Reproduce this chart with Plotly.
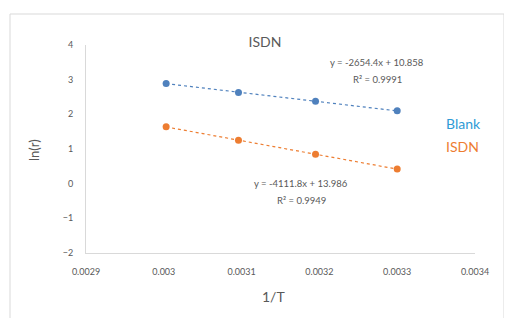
import numpy as np
import plotly.graph_objects as go

inv_T = [0.003003, 0.003096, 0.003195, 0.0033]
blank_ln_r = [2.89, 2.63, 2.38, 2.10]
isdn_ln_r = [1.64, 1.25, 0.85, 0.42]
x_ticks = [0.0029, 0.003, 0.0031, 0.0032, 0.0033, 0.0034]
x_tick_labels = ["0.0029", "0.003", "0.0031", "0.0032", "0.0033", "0.0034"]
y_ticks = [-2, -1, 0, 1, 2, 3, 4]
blank_eq = ["y = -2654.4x + 10.858", "R² = 0.9991"]
isdn_eq = ["y = -4111.8x + 13.986", "R² = 0.9949"]

BLUE = "#4f81bd"
ORANGE = "#ed7d31"
LEG_BLUE = "#2e9bd6"
GRAY = "#595959"
FONT = "Lato"

# page body has an 8px margin, so the figure starts at (8, 8)
W, H = 504, 310
PL, PT, PW, PH = 86, 45, 389, 208  # plot area in page pixels


def px(x):
    return (x - PL) / PW


def py(y):
    return (PT + PH - y) / PH


def note(x, y, text, size, color, xanchor="center", angle=0):
    fig.add_annotation(xref="paper", yref="paper", x=px(x), y=py(y), text=text,
                       showarrow=False, xanchor=xanchor, yanchor="middle",
                       textangle=angle, font=dict(size=size, color=color))


fig = go.Figure()
xs = np.array(inv_T)
for ys, col in [(blank_ln_r, BLUE), (isdn_ln_r, ORANGE)]:
    m, b = np.polyfit(xs, np.array(ys), 1)
    fx = np.array([xs.min(), xs.max()])
    fig.add_trace(go.Scatter(x=fx, y=m * fx + b, mode="lines",
                             line=dict(color=col, width=1.2, dash="dot"),
                             showlegend=False, hoverinfo="skip"))
    fig.add_trace(go.Scatter(x=inv_T, y=ys, mode="markers",
                             marker=dict(color=col, size=7),
                             showlegend=False))

fig.update_layout(
    width=W, height=H,
    margin=dict(l=78, r=37, t=37, b=65),
    paper_bgcolor="white", plot_bgcolor="white",
    font=dict(family=FONT, color=GRAY, size=9),
    title=dict(text="ISDN", x=(265 - 8) / W, xanchor="center",
               y=1 - (42 - 8) / H, yanchor="middle",
               font=dict(size=14, color=GRAY, family=FONT)),
    xaxis=dict(range=[0.0029, 0.0034], tickvals=x_ticks, ticktext=x_tick_labels,
               showgrid=False, zeroline=False, showline=True, linecolor="#d9d9d9",
               ticks="outside", ticklen=10, tickcolor="rgba(0,0,0,0)",
               tickfont=dict(size=9, color=GRAY), automargin=False),
    yaxis=dict(range=[-2, 4], tickvals=y_ticks,
               showgrid=False, zeroline=False, showline=True, linecolor="#d9d9d9",
               ticks="outside", ticklen=10, tickcolor="rgba(0,0,0,0)",
               tickfont=dict(size=9, color=GRAY), automargin=False),
    showlegend=False,
)

# axis titles
note(273, 296, "1/T", 14, GRAY)
note(34, 150, "ln(r)", 13, GRAY, angle=-90)

# trendline equations
for i, t in enumerate(blank_eq):
    note(377, 62 + 17 * i, t, 9.5, GRAY)
for i, t in enumerate(isdn_eq):
    note(301, 183 + 17 * i, t, 9.5, GRAY)

# legend as coloured text
note(444, 123, "Blank", 14, LEG_BLUE, xanchor="left")
note(444, 146, "ISDN", 14, ORANGE, xanchor="left")

fig.add_shape(type="rect", xref="paper", yref="paper",
              x0=px(10), x1=px(504), y0=-0.5, y1=py(14),
              line=dict(color="#d9d9d9", width=1))

fig.write_html("out.html")
